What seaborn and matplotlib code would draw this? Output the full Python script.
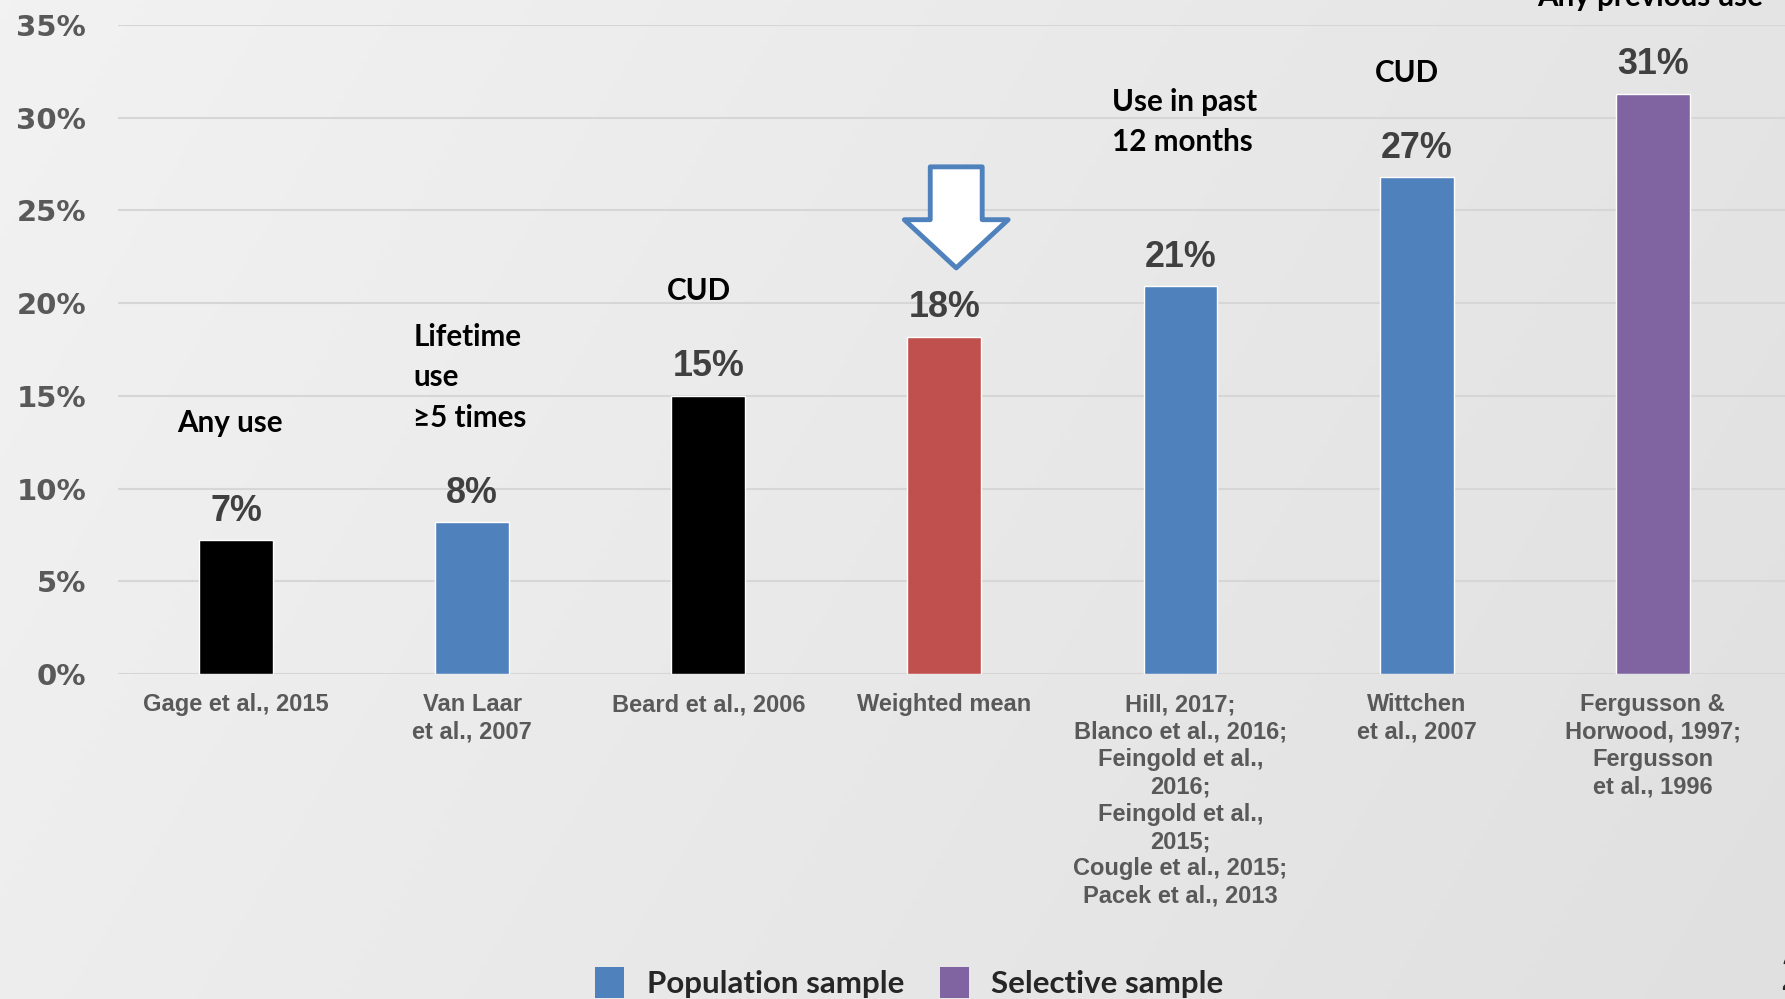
import numpy as np
import matplotlib
matplotlib.use("Agg")
import matplotlib.pyplot as plt
import seaborn as sns
from matplotlib.patches import Patch, FancyArrow
from matplotlib.colors import LinearSegmentedColormap

# ---------------- data ----------------
studies = [
    "Gage et al., 2015",
    "Van Laar\net al., 2007",
    "Beard et al., 2006",
    "Weighted mean",
    "Hill, 2017;\nBlanco et al., 2016;\nFeingold et al.,\n2016;\nFeingold et al.,\n2015;\nCougle et al., 2015;\nPacek et al., 2013",
    "Wittchen\net al., 2007",
    "Fergusson &\nHorwood, 1997;\nFergusson\net al., 1996",
]
values = [7.2, 8.2, 15.0, 18.2, 20.9, 26.8, 31.3]
value_labels = ["7%", "8%", "15%", "18%", "21%", "27%", "31%"]
bar_colors = ["#000000", "#4F81BD", "#000000", "#C0504D", "#4F81BD", "#4F81BD", "#8064A2"]
measures = ["Any use", "Lifetime\nuse\n≥5 times", "CUD", "", "Use in past\n12 months", "CUD", "Any previous use"]
y_ticks = [0, 5, 10, 15, 20, 25, 30, 35]
legend_labels = ["Population sample", "Selective sample"]
legend_colors = ["#4F81BD", "#8064A2"]

# ---------------- figure ----------------
sns.set_theme(style="white")
plt.rcParams["font.family"] = ["Liberation Sans", "DejaVu Sans"]

W, H = 1785, 999
fig = plt.figure(figsize=(W / 100, H / 100), dpi=100)

# background gradient
bg = fig.add_axes([0, 0, 1, 1], zorder=-10)
gx = np.linspace(0, 1, 300)[None, :]
gy = np.linspace(0, 1, 200)[:, None]
grad = 0.75 * gx + 0.25 * gy
bg.imshow(grad, aspect="auto", extent=[0, 1, 0, 1],
          cmap=LinearSegmentedColormap.from_list("bg", ["#F2F2F2", "#E0E0E0"]))
bg.axis("off")

ax = fig.add_axes([118 / W, 1 - 674 / H, 1 - 118 / W, (674 - 25) / H])
ax.set_facecolor("none")

sns.barplot(x=studies, y=values, hue=studies, order=studies, hue_order=studies,
            palette=bar_colors, legend=False, width=0.313, saturation=1, ax=ax,
            zorder=3)

ax.set_xlim(-0.5, 6.56)
ax.set_ylim(0, 35)
ax.set_yticks(y_ticks)
ax.set_yticklabels([f"{t}%" for t in y_ticks], fontsize=21, fontweight="bold",
                   color="#595959", family="DejaVu Sans")
ax.set_xticks(range(len(studies)))
ax.set_xticklabels(studies, fontsize=17, fontweight="bold", color="#595959",
                   linespacing=1.24)
ax.tick_params(axis="y", length=0, pad=23)
ax.tick_params(axis="x", length=0, pad=14)
ax.set_xlabel("")
ax.set_ylabel("")
for s in ax.spines.values():
    s.set_visible(False)
ax.yaxis.grid(True, color="#D6D6D6", lw=1.5)
ax.set_axisbelow(True)

# value labels
for i, (v, lab) in enumerate(zip(values, value_labels)):
    ax.annotate(lab, (i, v), xytext=(0, 14), textcoords="offset points",
                ha="center", va="baseline", fontsize=25.8, fontweight="bold",
                color="#404040", zorder=6)

# measure annotations (placement relative to bars)
ann_style = dict(fontsize=21.3, fontweight="bold", color="#000000",
                 family=["Lato", "DejaVu Sans"], zorder=6, clip_on=False)
placement = [
    (-0.025, 13.54, "center", "center"),
    (0.75, 16.0, "left", "center"),
    (1.96, 20.65, "center", "center"),
    None,
    (3.71, 29.75, "left", "center"),
    (4.96, 32.41, "center", "center"),
    (5.99, 36.02, "center", "baseline"),
]
for txt, pl in zip(measures, placement):
    if pl is None or not txt:
        continue
    x, y, ha, va = pl
    ax.text(x, y, txt, ha=ha, va=va, linespacing=1.53, **ann_style)

# block arrow over the weighted mean
wm = studies.index("Weighted mean")
arr = FancyArrow(wm + 0.05, 27.35, 0, -(27.35 - 21.9), width=0.22, head_width=0.44,
                 head_length=2.6, length_includes_head=True, fc="white",
                 ec="#4F81BD", lw=3.5, joinstyle="round", zorder=7)
ax.add_patch(arr)

# legend
handles = [Patch(facecolor=c, edgecolor="none", label=l) for c, l in zip(legend_colors, legend_labels)]
fig.legend(handles=handles, loc="upper left", bbox_to_anchor=(595 / W, 1 - 967 / H),
           ncol=2, frameon=False,
           prop=dict(family="Lato", weight="bold", size=22.5),
           handlelength=0.93, handleheight=1.15, handletextpad=0.72,
           columnspacing=1.15, borderpad=0, borderaxespad=0)

# slide number fragment
fig.text(1780 / W, 1 - 990 / H, "2", fontsize=35, fontweight="bold",
         family="Lato", color="#262626", ha="left", va="baseline")

fig.savefig("out.png", dpi=100)
